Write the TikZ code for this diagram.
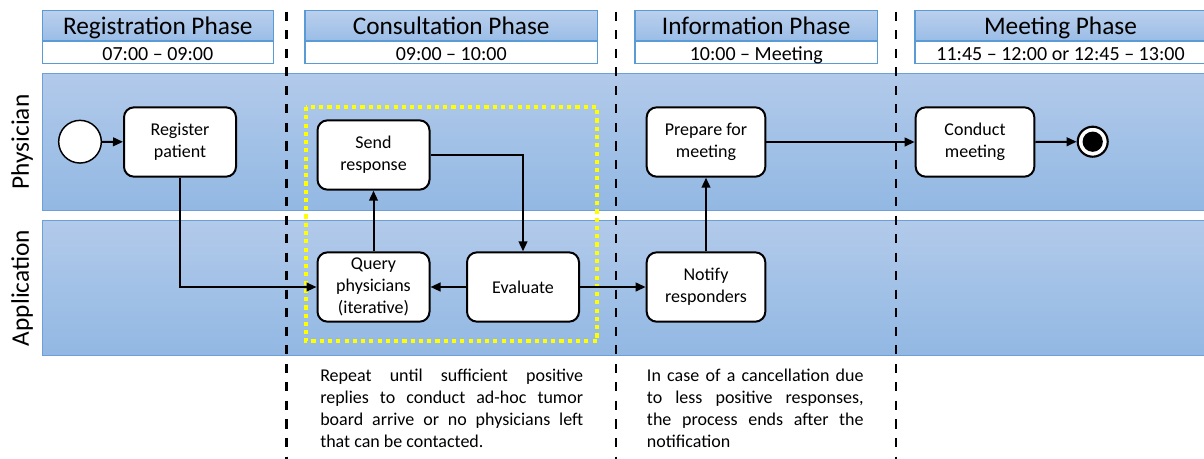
\documentclass[tikz,border=0pt]{standalone}
\usepackage{fontspec}
\setmainfont{Carlito}
\usetikzlibrary{arrows.meta}

\definecolor{laneTop}{RGB}{178,202,234}
\definecolor{laneBot}{RGB}{146,184,227}
\definecolor{laneEdge}{RGB}{110,160,215}
\definecolor{headTop}{RGB}{186,207,237}
\definecolor{headBot}{RGB}{154,189,230}
\definecolor{headEdge}{RGB}{91,155,213}
\definecolor{loopYellow}{RGB}{255,255,0}

\begin{document}
\begin{tikzpicture}[
  x=0.75pt, y=-0.75pt,
  lane/.style={top color=laneTop, bottom color=laneBot, draw=laneEdge, line width=0.6pt},
  headtitle/.style={top color=headTop, bottom color=headBot, draw=headEdge, line width=1.1pt},
  headtime/.style={fill=white, draw=headEdge, line width=1.1pt},
  phasename/.style={anchor=base, inner sep=0pt, font=\fontsize{19}{23}\selectfont},
  phasetime/.style={anchor=base, inner sep=0pt, font=\fontsize{15}{18}\selectfont},
  lanelabel/.style={rotate=90, inner sep=0pt, font=\fontsize{19}{23}\selectfont},
  task/.style={draw, line width=1.5pt, rounded corners=7.5pt, fill=white,
    minimum height=52pt, align=center, inner sep=2pt,
    font=\fontsize{13.5}{16.3}\selectfont},
  narrow/.style={task, minimum width=84pt},
  wide/.style={task, minimum width=89pt},
  flow/.style={line width=1.5pt, -{Triangle[length=7.5pt,width=6.5pt]}},
  phasesep/.style={line width=2.2pt, dash pattern=on 6.8pt off 7.1pt},
  loopbox/.style={draw=loopYellow, line width=3pt, dash pattern=on 3.1pt off 3.1pt},
  note/.style={anchor=base west, inner sep=0pt, font=\fontsize{13.5}{16.5}\selectfont}
]
\useasboundingbox (0,0) rectangle (1204,458);
\clip (0,0) rectangle (1204,458);

% swim lanes
\path[lane] (42.7,73.3) rectangle (1210,210.7);
\path[lane] (42.7,220.7) rectangle (1210,355);
\node[lanelabel] (lanePhys) at (22,142) {Physician};
\node[lanelabel] (laneApp) at (22,288) {Application};

% phase headers
\path[headtitle] (42.3,10.7) rectangle (273.3,41);
\path[headtime] (42.3,41) rectangle (273.3,63.3);
\node[phasename] (hReg) at (157.8,34) {Registration Phase};
\node[phasetime] (tReg) at (157.8,60) {07:00 – 09:00};

\path[headtitle] (305,10.7) rectangle (597.3,41);
\path[headtime] (305,41) rectangle (597.3,63.3);
\node[phasename] (hCon) at (451.2,34) {Consultation Phase};
\node[phasetime] (tCon) at (451.2,60) {09:00 – 10:00};

\path[headtitle] (635,10.7) rectangle (877.3,41);
\path[headtime] (635,41) rectangle (877.3,63.3);
\node[phasename] (hInf) at (756.2,34) {Information Phase};
\node[phasetime] (tInf) at (756.2,60) {10:00 – Meeting};

\path[headtitle] (915,10.7) rectangle (1206,41);
\path[headtime] (915,41) rectangle (1206,63.3);
\node[phasename] (hMee) at (1060.5,34) {Meeting Phase};
\node[phasetime] (tMee) at (1060.5,60) {11:45 – 12:00 or 12:45 – 13:00};

% phase separators
\draw[phasesep] (286.7,11.7) -- (286.7,470);
\draw[phasesep] (616,11.7) -- (616,470);
\draw[phasesep] (896,11.7) -- (896,470);

% repeated consultation loop
\draw[loopbox] (306,107) rectangle (597,341.3);

% events
\node[circle, draw, fill=white, line width=1.1pt, minimum size=32pt, inner sep=0pt] (start) at (80,141.7) {};
\node[circle, draw, fill=white, line width=1.6pt, minimum size=22.5pt, inner sep=0pt] (finish) at (1092.7,141.7) {};
\fill (finish.center) circle[radius=7.6pt];

% activities
\node[narrow] (register) at (180,142) {Register\\patient};
\node[narrow] (send) at (373.5,155) {Send\\response};
\node[narrow] (query) at (373.5,287) {Query\\physicians\\(iterative)};
\node[narrow] (evaluate) at (523,287) {Evaluate};
\node[wide] (prepare) at (706,142) {Prepare for\\meeting};
\node[wide] (notify) at (706,287) {Notify\\responders};
\node[wide] (conduct) at (975,142) {Conduct\\meeting};

% sequence flows
\draw[flow] (start) -- (register);
\draw[flow] (register.south) |- (query.west);
\draw[flow] (query.north) -- (send.south);
\draw[flow] (send.east) -| (evaluate.north);
\draw[flow] (evaluate.west) -- (query.east);
\draw[flow] (evaluate.east) -- (notify.west);
\draw[flow] (notify.north) -- (prepare.south);
\draw[flow] (prepare.east) -- (conduct.west);
\draw[flow] (conduct.east) -- (finish.west);

% annotations
\node[note] (noteLoop) at (320,381.7) {\parbox[t]{197.2pt}{\hyphenpenalty=10000
  Repeat until sufficient positive\linebreak
  replies to conduct ad-hoc tumor\linebreak
  board arrive or no physicians left\linebreak
  that can be contacted.}};
\node[note] (noteCancel) at (646.7,381.7) {\parbox[t]{162.5pt}{\hyphenpenalty=10000
  In case of a cancellation due\linebreak
  to less positive responses,\linebreak
  the process ends after the\linebreak
  notification}};
\end{tikzpicture}
\end{document}
